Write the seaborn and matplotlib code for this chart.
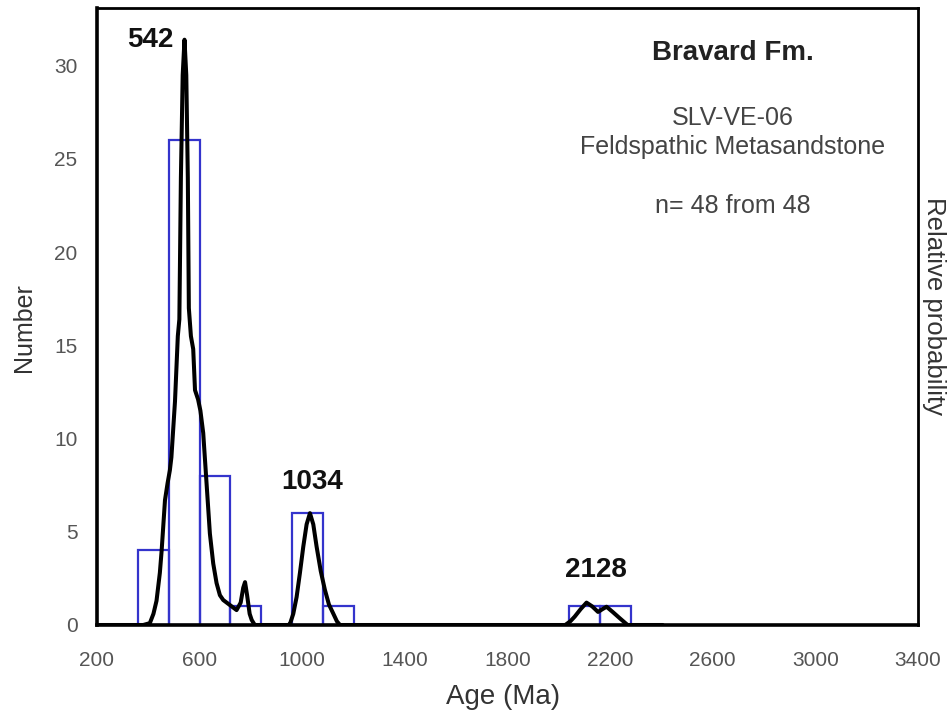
import matplotlib
matplotlib.use("Agg")
import matplotlib.pyplot as plt
import seaborn as sns
import numpy as np
import pandas as pd

# ---- data ----
bin_left = [360, 480, 600, 720, 960, 1080, 2040, 2160]
bin_counts = [4, 26, 8, 1, 6, 1, 1, 1]
bin_width = 120
bin_edges = list(range(360, 2281, 120))

curve_age = [200, 380, 406, 420, 432, 445, 452, 465, 475, 484, 490, 497, 504,
             515, 521, 527, 534, 541, 548, 554, 558, 566, 575, 582, 594, 603,
             614, 627, 640, 653, 666, 679, 692, 718, 744, 760, 770, 777, 785,
             795, 803, 815, 945, 952, 965, 978, 991, 1004, 1017, 1030, 1043,
             1056, 1072, 1088, 1104, 1120, 1135, 1147, 2025, 2045, 2062, 2085,
             2108, 2130, 2153, 2170, 2186, 2210, 2237, 2268, 2405]
curve_prob = [0, 0, 0.1, 0.6, 1.3, 2.8, 4.0, 6.7, 7.6, 8.3, 9.0, 10.5, 12.0,
              15.5, 16.4, 24, 29.5, 31.4, 29.5, 24, 17, 15.5, 14.8, 12.6, 12.1,
              11.5, 10.3, 7.6, 4.9, 3.3, 2.25, 1.6, 1.34, 1.07, 0.8, 1.2, 2.0,
              2.3, 1.6, 0.6, 0.27, 0, 0, 0.05, 0.6, 1.5, 2.8, 4.2, 5.4, 6.0,
              5.4, 4.2, 2.9, 1.9, 1.1, 0.64, 0.2, 0, 0, 0.2, 0.45, 0.85, 1.2,
              1.0, 0.7, 0.85, 0.98, 0.7, 0.37, 0, 0]

peak_labels = ["542", "1034", "2128"]
peak_label_x = [406, 1039, 2144]
peak_label_y = [31.4, 7.65, 2.95]

x_ticks = list(range(200, 3401, 400))
y_ticks = [0, 5, 10, 15, 20, 25, 30]

# ---- plot ----
sns.set_theme(style="white")
plt.rcParams['font.family'] = ['Liberation Sans', 'DejaVu Sans']

fig = plt.figure(figsize=(9.49, 7.17), dpi=100)
ax = fig.add_axes([97 / 949, 1 - 625 / 717, 821 / 949, 617 / 717])

bars = pd.DataFrame({"age": [l + bin_width / 2 for l in bin_left], "n": bin_counts})
sns.histplot(data=bars, x="age", weights="n", bins=bin_edges, fill=False,
             color="#3434cc", linewidth=1.6, ax=ax)

curve = pd.DataFrame({"age": curve_age, "p": curve_prob})
sns.lineplot(data=curve, x="age", y="p", sort=False, color="black",
             linewidth=2.9, ax=ax)

ax.set_xlim(200, 3400)
ax.set_ylim(0, 33.1)
ax.set_xticks(x_ticks)
ax.set_yticks(y_ticks)
ax.tick_params(axis="both", direction="out", length=4, width=1,
               colors="#999999", labelcolor="#555555", labelsize=15)
ax.tick_params(axis="x", pad=15)
ax.tick_params(axis="y", pad=10)
ax.set_xlabel("")
ax.set_ylabel("")
for name, s in ax.spines.items():
    s.set_visible(True)
    s.set_color("black")
    s.set_linewidth(2.6 if name in ("left", "bottom") else 2.0)

fig.text(503 / 949, 1 - 697 / 717, "Age (Ma)", ha="center", va="center",
         fontsize=20, color="#333333")
fig.text(24 / 949, 1 - 328 / 717, "Number", ha="center", va="center",
         rotation=90, fontsize=18, color="#333333")
fig.text(934 / 949, 1 - 306 / 717, "Relative probability", ha="center",
         va="center", rotation=-90, fontsize=18.5, color="#333333")

for lab, lx, ly in zip(peak_labels, peak_label_x, peak_label_y):
    ax.text(lx, ly, lab, ha="center", va="center", fontsize=20,
            fontweight="bold", color="#111111")

tx = (732.5 - 97) / 821
ax.text(tx, 0.927, "Bravard Fm.", transform=ax.transAxes, ha="center",
        va="center", fontsize=20, fontweight="bold", color="#222222")
ax.text(tx, 0.822, "SLV-VE-06", transform=ax.transAxes, ha="center",
        va="center", fontsize=18, color="#444444")
ax.text(tx, 0.775, "Feldspathic Metasandstone", transform=ax.transAxes,
        ha="center", va="center", fontsize=18, color="#444444")
ax.text(tx, 0.679, "n= 48 from 48", transform=ax.transAxes, ha="center",
        va="center", fontsize=18, color="#444444")

fig.savefig("out.png", dpi=100)
